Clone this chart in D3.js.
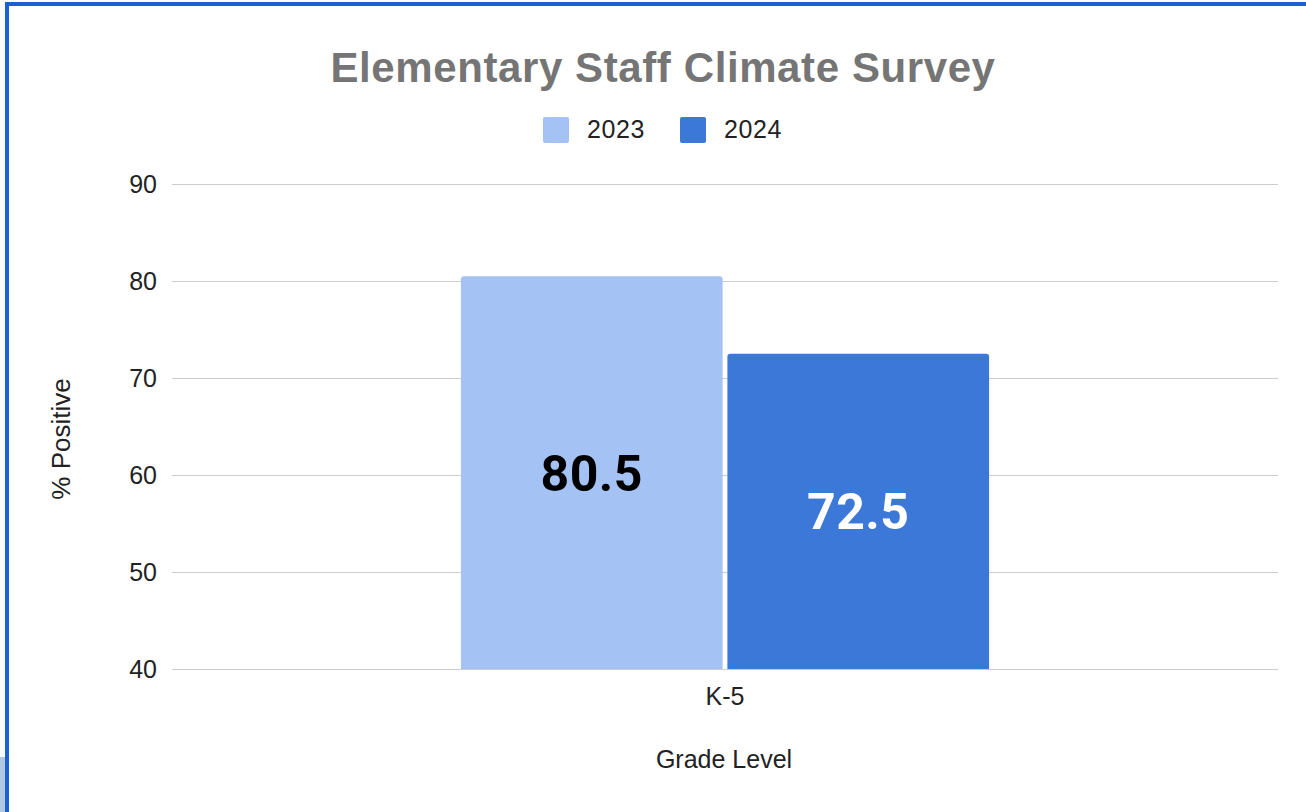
<!DOCTYPE html>
<html>
<head>
<meta charset="utf-8">
<script src="https://cdn.jsdelivr.net/npm/d3@7/dist/d3.min.js"></script>
<style>
  html, body { margin: 0; padding: 0; background: #ffffff; }
  svg { display: block; }
</style>
</head>
<body>
<svg id="chart" width="1306" height="812"></svg>
<script>
const title = "Elementary Staff Climate Survey";
const categories = ["K-5"];
const seriesNames = ["2023", "2024"];
const values2023 = [80.5];
const values2024 = [72.5];
const seriesColors = ["#a4c2f4", "#3c78d8"];
const labelColors = ["#000000", "#ffffff"];
const yTicks = [40, 50, 60, 70, 80, 90];
const yTitle = "% Positive";
const xTitle = "Grade Level";

const W = 1306, H = 812;
const svg = d3.select("#chart");
const font = "'Liberation Sans', Arial, sans-serif";

// page frame pieces
svg.append("rect").attr("x", 0).attr("y", 0).attr("width", W).attr("height", H).attr("fill", "#ffffff");
svg.append("rect").attr("x", 0).attr("y", 0).attr("width", 5).attr("height", H).attr("fill", "#fafafa");
svg.append("rect").attr("x", 0).attr("y", 757).attr("width", 5).attr("height", H - 757).attr("fill", "#b0c8dd");
svg.append("rect").attr("x", 5).attr("y", 2).attr("width", W - 5).attr("height", 4).attr("fill", "#1a5fd4");
svg.append("rect").attr("x", 5).attr("y", 2).attr("width", 4).attr("height", H - 2).attr("fill", "#1a5fd4");

const plot = { left: 172, right: 1278, top: 184, bottom: 669 };

const y = d3.scaleLinear().domain([40, 90]).range([plot.bottom, plot.top]);
const x0 = d3.scaleBand().domain(categories).range([plot.left, plot.right]).paddingInner(0).paddingOuter(0.547);
const x1 = d3.scaleBand().domain(seriesNames).range([0, x0.bandwidth()]).paddingInner(0.018).paddingOuter(0);
const color = d3.scaleOrdinal().domain(seriesNames).range(seriesColors);

// gridlines
const yAxis = d3.axisLeft(y).tickValues(yTicks).tickSize(-(plot.right - plot.left)).tickPadding(15);
const gy = svg.append("g").attr("transform", `translate(${plot.left},0)`).call(yAxis);
gy.select(".domain").remove();
gy.selectAll(".tick line").attr("stroke", "#cccccc").attr("stroke-width", 1);
gy.selectAll(".tick text").attr("font-family", font).attr("font-size", 25).attr("fill", "#222222");

// bars
const rows = categories.map((c, i) => ({ cat: c, vals: [values2023[i], values2024[i]] }));
const groups = svg.append("g").selectAll("g").data(rows).join("g")
  .attr("transform", d => `translate(${x0(d.cat)},0)`);

function topRoundedPath(x, yTop, w, h, r) {
  return `M${x},${yTop + h}V${yTop + r}Q${x},${yTop} ${x + r},${yTop}H${x + w - r}Q${x + w},${yTop} ${x + w},${yTop + r}V${yTop + h}Z`;
}

groups.selectAll("path.bar").data(d => d.vals.map((v, j) => ({ s: seriesNames[j], v, j })))
  .join("path").attr("class", "bar")
  .attr("d", d => topRoundedPath(x1(d.s), y(d.v), x1.bandwidth(), y(40) - y(d.v), 3))
  .attr("fill", d => color(d.s));

groups.selectAll("text.lbl").data(d => d.vals.map((v, j) => ({ s: seriesNames[j], v, j })))
  .join("text").attr("class", "lbl")
  .attr("x", d => x1(d.s) + x1.bandwidth() / 2)
  .attr("y", d => (y(d.v) + y(40)) / 2)
  .attr("dy", "0.36em")
  .attr("text-anchor", "middle")
  .attr("font-family", "Roboto, sans-serif")
  .attr("font-weight", "bold")
  .attr("font-size", 50)
  .attr("letter-spacing", 0.5)
  .attr("fill", d => labelColors[d.j])
  .text(d => d.v.toFixed(1));

// x axis labels
const xAxis = d3.axisBottom(x0).tickSize(0).tickPadding(18);
const gx = svg.append("g").attr("transform", `translate(0,${plot.bottom})`).call(xAxis);
gx.select(".domain").remove();
gx.selectAll(".tick text").attr("font-family", font).attr("font-size", 25).attr("fill", "#222222");

// title
svg.append("text").attr("x", 663).attr("y", 82).attr("text-anchor", "middle")
  .attr("font-family", font).attr("font-weight", "bold").attr("font-size", 42)
  .attr("letter-spacing", 0.6).attr("fill", "#757575")
  .text(title);

// legend
const legendItems = [{ name: seriesNames[0], x: 543 }, { name: seriesNames[1], x: 680 }];
const lg = svg.append("g");
legendItems.forEach(it => {
  lg.append("rect").attr("x", it.x).attr("y", 117).attr("width", 26).attr("height", 26).attr("rx", 2)
    .attr("fill", color(it.name));
  lg.append("text").attr("x", it.x + 44).attr("y", 138).attr("font-family", font).attr("font-size", 25)
    .attr("letter-spacing", 0.6).attr("fill", "#222222").text(it.name);
});

// axis titles
svg.append("text").attr("transform", `translate(70,439) rotate(-90)`).attr("text-anchor", "middle")
  .attr("font-family", font).attr("font-size", 26).attr("fill", "#222222").text(yTitle);
svg.append("text").attr("x", 724).attr("y", 768).attr("text-anchor", "middle")
  .attr("font-family", font).attr("font-size", 25).attr("fill", "#222222").text(xTitle);
</script>
</body>
</html>
